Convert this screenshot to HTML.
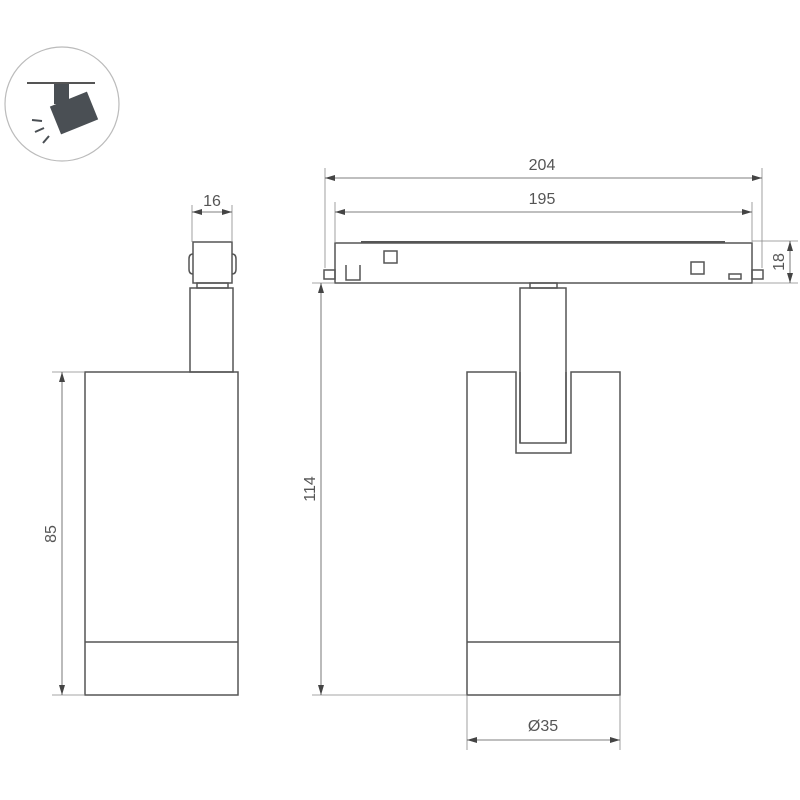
<!DOCTYPE html>
<html><head><style>
html,body{margin:0;padding:0;background:#fff;}
svg{display:block}
text{font-family:"Liberation Sans",sans-serif;fill:#555;font-size:16px}
</style></head><body>
<svg width="800" height="800" viewBox="0 0 800 800" xmlns="http://www.w3.org/2000/svg">
<defs>
<marker id="a" viewBox="0 0 10 6" refX="10" refY="3" markerWidth="10" markerHeight="6" orient="auto-start-reverse" markerUnits="userSpaceOnUse"><path d="M0,0 L10,3 L0,6 z" fill="#444"/></marker>
</defs>
<!-- icon -->
<circle cx="62" cy="104" r="57" fill="#fff" stroke="#bbb" stroke-width="1.2"/>
<line x1="27" y1="83" x2="95" y2="83" stroke="#555" stroke-width="2"/>
<rect x="54" y="84" width="15" height="20" fill="#4a4f54"/>
<g transform="translate(74,113) rotate(-22)"><rect x="-20" y="-15" width="40" height="30" fill="#4a4f54"/></g>
<g stroke="#4a4f54" stroke-width="2"><line x1="32" y1="120" x2="42" y2="121"/><line x1="35" y1="132" x2="44" y2="128"/><line x1="43" y1="143" x2="49" y2="136"/></g>

<g fill="none" stroke="#555" stroke-width="1.5">
<!-- left view -->
<rect x="85" y="372" width="153" height="323"/>
<line x1="85" y1="642" x2="238" y2="642"/>
<rect x="190" y="288" width="43" height="84"/>
<rect x="193" y="242" width="39" height="41"/>
<rect x="197" y="283" width="31" height="5"/>
<path d="M193,254 q-4,0 -4,5 v10 q0,5 4,5 M232,254 q4,0 4,5 v10 q0,5 -4,5"/>
<!-- right view -->
<rect x="335" y="243" width="417" height="40"/>
<rect x="324" y="270" width="11" height="9"/>
<rect x="752" y="270" width="11" height="9"/>
<line x1="361" y1="242" x2="725" y2="242" stroke-width="2"/>
<rect x="384" y="251" width="13" height="12"/>
<rect x="691" y="262" width="13" height="12"/>
<rect x="729" y="274" width="12" height="5"/>
<path d="M346,265 v15 h14 v-15"/>
<rect x="530" y="283" width="27" height="5"/>
<rect x="520" y="288" width="46" height="155"/>
<path d="M467,695 V372 H516 V453 H571 V372 H620 V695 Z"/>
<path d="M520,372 V443 M566,372 V443"/>
<line x1="467" y1="642" x2="620" y2="642"/>
</g>

<!-- dimensions -->
<g stroke="#888" stroke-width="0.8" fill="none">
<line x1="325" y1="168" x2="325" y2="268"/>
<line x1="762" y1="168" x2="762" y2="268"/>
<line x1="335" y1="202" x2="335" y2="243"/>
<line x1="752" y1="202" x2="752" y2="243"/>
<line x1="752" y1="241" x2="798" y2="241"/>
<line x1="752" y1="283" x2="798" y2="283"/>
<line x1="192" y1="205" x2="192" y2="242"/>
<line x1="232" y1="205" x2="232" y2="242"/>
<line x1="312" y1="283" x2="335" y2="283"/>
<line x1="312" y1="695" x2="467" y2="695"/>
<line x1="52" y1="372" x2="85" y2="372"/>
<line x1="52" y1="695" x2="85" y2="695"/>
<line x1="467" y1="695" x2="467" y2="750"/>
<line x1="620" y1="695" x2="620" y2="750"/>
</g>
<g stroke="#555" stroke-width="0.8">
<line x1="325" y1="178" x2="762" y2="178" marker-start="url(#a)" marker-end="url(#a)"/>
<line x1="335" y1="212" x2="752" y2="212" marker-start="url(#a)" marker-end="url(#a)"/>
<line x1="790" y1="241" x2="790" y2="283" marker-start="url(#a)" marker-end="url(#a)"/>
<line x1="192" y1="212" x2="232" y2="212" marker-start="url(#a)" marker-end="url(#a)"/>
<line x1="321" y1="283" x2="321" y2="695" marker-start="url(#a)" marker-end="url(#a)"/>
<line x1="62" y1="372" x2="62" y2="695" marker-start="url(#a)" marker-end="url(#a)"/>
<line x1="467" y1="740" x2="620" y2="740" marker-start="url(#a)" marker-end="url(#a)"/>
</g>
<text x="542" y="170" text-anchor="middle">204</text>
<text x="542" y="204" text-anchor="middle">195</text>
<text x="212" y="206" text-anchor="middle" font-size="14">16</text>
<text x="543" y="731" text-anchor="middle">Ø35</text>
<text transform="translate(784,262) rotate(-90)" text-anchor="middle" font-size="14">18</text>
<text transform="translate(315,489) rotate(-90)" text-anchor="middle">114</text>
<text transform="translate(56,534) rotate(-90)" text-anchor="middle">85</text>
</svg>
</body></html>
